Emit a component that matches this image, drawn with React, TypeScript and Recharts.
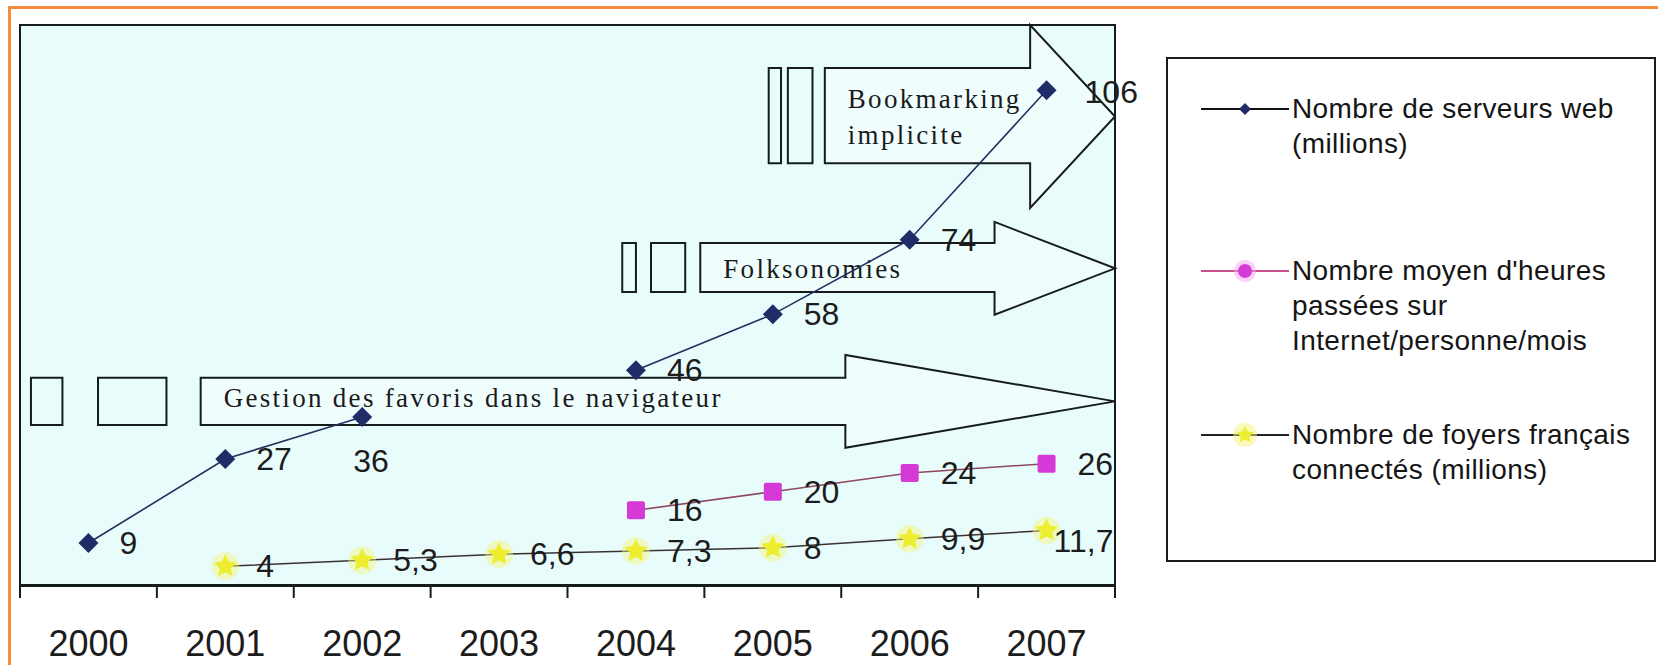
import React from 'react';
import { LineChart, Line, XAxis, YAxis, ReferenceArea, LabelList, Legend } from 'recharts';

const years = [2000, 2001, 2002, 2003, 2004, 2005, 2006, 2007];
const webServers = [9, 27, 36, null, 46, 58, 74, 106];
const hoursOnline = [null, null, null, null, 16, 20, 24, 26];
const connectedHomes = [null, 4, 5.3, 6.6, 7.3, 8, 9.9, 11.7];

const legendServers = ['Nombre de serveurs web', '(millions)'];
const legendHours = ["Nombre moyen d'heures", 'passées sur', 'Internet/personne/mois'];
const legendHomes = ['Nombre de foyers français', 'connectés (millions)'];

// phases drawn as block arrows, in data units (year, value)
const phaseLabels = [['Gestion des favoris dans le navigateur'], ['Folksonomies'], ['Bookmarking', 'implicite']];
const phaseStart = [2000.82, 2004.47, 2005.38];
const phaseHead = [2005.53, 2006.62, 2006.88];
const phaseEnd = [2007.5, 2007.5, 2007.5];
const phaseShaft = [[34.3, 44.4], [62.8, 73.3], [90.4, 110.8]];
const phaseSpan = [[29.4, 49.3], [57.9, 77.8], [80.8, 120]];
const phaseBoxes = [
  [[1999.58, 1999.81], [2000.07, 2000.57]],
  [[2003.9, 2004.0], [2004.11, 2004.36]],
  [[2004.97, 2005.06], [2005.11, 2005.29]],
];

const data = years.map((year, i) => ({
  year,
  servers: webServers[i],
  hours: hoursOnline[i],
  homes: connectedHomes[i],
}));

const boundaryTicks = [years[0] - 0.5, ...years.map((y) => y + 0.5)];
const domainX = [years[0] - 0.5, years[years.length - 1] + 0.5];

const W = 1658;
const H = 665;
const BG = '#E9FCFC';
const INK = '#161C1C';
const SANS = '"Liberation Sans", Arial, sans-serif';
const SERIF = '"Liberation Serif", "Times New Roman", serif';

const phaseTextDy = [6, 11, -8];
const defaultLabelOffset = { dx: 31, dy: 0 };
const labelOffsets: Record<string, Record<number, { dx: number; dy: number }>> = {
  servers: { 2: { dx: -9, dy: 44 }, 7: { dx: 38, dy: 2 } },
  hours: { 0: { dx: 36, dy: 0 } },
  homes: { 7: { dx: 7, dy: 11 } },
};

const fmt = (v: number) => String(v).replace('.', ',');

const renderLabel = (key: string) => (props: any) => {
  const { x, y, value, index } = props;
  if (value == null || x == null || y == null) return null;
  const o = labelOffsets[key][index] || defaultLabelOffset;
  return (
    <text
      x={Number(x) + o.dx}
      y={Number(y) + o.dy}
      dominantBaseline="central"
      fontFamily={SANS}
      fontSize={32}
      fill="#1c1c1c"
    >
      {fmt(value)}
    </text>
  );
};

const diamondDot = (p: any) => {
  const { cx, cy, index, value } = p;
  if (cx == null || cy == null || value == null) return <g key={`d${index}`} />;
  const r = 10;
  return (
    <polygon
      key={`d${index}`}
      points={`${cx},${cy - r} ${cx + r},${cy} ${cx},${cy + r} ${cx - r},${cy}`}
      fill="#1E2C68"
    />
  );
};

const squareDot = (p: any) => {
  const { cx, cy, index, value } = p;
  if (cx == null || cy == null || value == null) return <g key={`s${index}`} />;
  return <rect key={`s${index}`} x={cx - 9} y={cy - 9} width={18} height={18} rx={2} fill="#D63AD6" />;
};

const starPoints = (cx: number, cy: number, R: number, r: number) =>
  Array.from({ length: 10 }, (_, k) => {
    const a = -Math.PI / 2 + (k * Math.PI) / 5;
    const rad = k % 2 ? r : R;
    return `${cx + rad * Math.cos(a)},${cy + rad * Math.sin(a)}`;
  }).join(' ');

const starDot = (p: any) => {
  const { cx, cy, index, value } = p;
  if (cx == null || cy == null || value == null) return <g key={`y${index}`} />;
  return (
    <g key={`y${index}`}>
      <circle cx={cx} cy={cy} r={14} fill="#F4F47A" opacity={0.45} />
      <polygon points={starPoints(cx, cy, 12, 6)} fill="#EEEE30" />
    </g>
  );
};

const arrowShape = (i: number) => (p: any) => {
  const { x, y, width, height } = p;
  const [lo, hi] = phaseSpan[i];
  const px = (v: number) => x + (width * (v - phaseStart[i])) / (phaseEnd[i] - phaseStart[i]);
  const py = (v: number) => y + (height * (hi - v)) / (hi - lo);
  const hx = px(phaseHead[i]);
  const st = py(phaseShaft[i][1]);
  const sb = py(phaseShaft[i][0]);
  const pts = [
    [x, st], [hx, st], [hx, y], [x + width, y + height / 2],
    [hx, y + height], [hx, sb], [x, sb],
  ].map((q) => q.join(',')).join(' ');
  const base = (st + sb) / 2 + phaseTextDy[i];
  return (
    <g>
      <polygon points={pts} fill="#EFFDFD" stroke={INK} strokeWidth={2} />
      {phaseLabels[i].map((t, k) => (
        <text key={k} x={x + 23} y={base + k * 36} fontFamily={SERIF} fontSize={27} letterSpacing={2.3} fill="#1a1a1a">
          {t}
        </text>
      ))}
    </g>
  );
};

const YearTick = ({ x, y, payload }: any) => (
  <text x={x} y={y} dy={71} textAnchor="middle" fontFamily={SANS} fontSize={36} fill="#1c1c1c">
    {payload.value}
  </text>
);

const EmptyTick = () => <g />;

const legendRows = [
  { lines: legendServers, center: 52, stroke: '#111', marker: 'diamond' },
  { lines: legendHours, center: 214, stroke: '#C9508E', marker: 'circle' },
  { lines: legendHomes, center: 378, stroke: '#222', marker: 'star' },
];

const LegendBox = () => (
  <div
    style={{
      position: 'relative',
      width: 490,
      height: 505,
      boxSizing: 'border-box',
      border: `2.5px solid ${INK}`,
      background: '#fff',
    }}
  >
    {legendRows.map((row, i) => (
      <div key={i}>
        <svg width={88} height={30} style={{ position: 'absolute', left: 33, top: row.center - 15 - 2.5 }}>
          <line x1={0} x2={88} y1={15} y2={15} stroke={row.stroke} strokeWidth={2} />
          {row.marker === 'diamond' && <polygon points="44,9 50,15 44,21 38,15" fill="#1E2C68" />}
          {row.marker === 'circle' && (
            <g>
              <circle cx={44} cy={15} r={11} fill="#F0A8F0" opacity={0.5} />
              <circle cx={44} cy={15} r={7} fill="#D63AD6" />
            </g>
          )}
          {row.marker === 'star' && (
            <g>
              <circle cx={44} cy={15} r={12} fill="#F4F47A" opacity={0.5} />
              <polygon points={starPoints(44, 15, 9, 4.5)} fill="#EEEE30" />
            </g>
          )}
        </svg>
        <div
          style={{
            position: 'absolute',
            left: 124,
            top: row.center - 17.5 - 2.5,
            fontFamily: SANS,
            fontSize: 28,
            lineHeight: '35px',
            letterSpacing: 0.4,
            color: '#151515',
            whiteSpace: 'nowrap',
          }}
        >
          {row.lines.map((t, k) => (
            <div key={k}>{t}</div>
          ))}
        </div>
      </div>
    ))}
  </div>
);

export default function App() {
  return (
    <div style={{ position: 'absolute', left: 0, top: 0, width: W, height: H, background: '#fff', overflow: 'hidden' }}>
      <div style={{ position: 'absolute', left: 8, top: 6, width: W - 8, height: 3, background: '#FA8A3C' }} />
      <div style={{ position: 'absolute', left: 8, top: 6, width: 3, height: H - 6, background: '#FA8A3C' }} />
      <LineChart width={W} height={H} data={data} margin={{ top: 25, right: 53, bottom: 78, left: 20 }}>
        <XAxis
          xAxisId="marks"
          dataKey="year"
          type="number"
          domain={domainX}
          ticks={boundaryTicks}
          interval={0}
          height={1}
          tick={<EmptyTick />}
          tickSize={12}
          axisLine={{ stroke: INK, strokeWidth: 2 }}
          tickLine={{ stroke: INK, strokeWidth: 2 }}
        />
        <XAxis
          dataKey="year"
          type="number"
          domain={domainX}
          ticks={years}
          interval={0}
          height={1}
          tickSize={0}
          tickMargin={0}
          axisLine={false}
          tickLine={false}
          tick={<YearTick />}
        />
        <YAxis hide type="number" domain={[0, 120]} />
        <ReferenceArea
          x1={domainX[0]}
          x2={domainX[1]}
          y1={0}
          y2={120}
          fill={BG}
          fillOpacity={1}
          stroke={INK}
          strokeWidth={2}
        />
        {phaseLabels.map((_, i) => (
          <ReferenceArea
            key={`arrow${i}`}
            x1={phaseStart[i]}
            x2={phaseEnd[i]}
            y1={phaseSpan[i][0]}
            y2={phaseSpan[i][1]}
            shape={arrowShape(i)}
          />
        ))}
        {phaseBoxes.flatMap((boxes, i) =>
          boxes.map((b, k) => (
            <ReferenceArea
              key={`box${i}-${k}`}
              x1={b[0]}
              x2={b[1]}
              y1={phaseShaft[i][0]}
              y2={phaseShaft[i][1]}
              fill="none"
              fillOpacity={0}
              stroke={INK}
              strokeWidth={2}
            />
          ))
        )}
        <Line
          dataKey="servers"
          stroke="#23305F"
          strokeWidth={1.6}
          dot={diamondDot}
          activeDot={false}
          isAnimationActive={false}
        >
          <LabelList dataKey="servers" content={renderLabel('servers')} />
        </Line>
        <Line
          dataKey="hours"
          stroke="#8E4860"
          strokeWidth={1.5}
          dot={squareDot}
          activeDot={false}
          isAnimationActive={false}
        >
          <LabelList dataKey="hours" content={renderLabel('hours')} />
        </Line>
        <Line
          dataKey="homes"
          stroke="#3A3232"
          strokeWidth={1.5}
          dot={starDot}
          activeDot={false}
          isAnimationActive={false}
        >
          <LabelList dataKey="homes" content={renderLabel('homes')} />
        </Line>
        <Legend
          layout="vertical"
          align="right"
          verticalAlign="top"
          wrapperStyle={{ left: 1166, top: 57, right: 'auto', width: 490, height: 505 }}
          content={() => <LegendBox />}
        />
      </LineChart>
    </div>
  );
}
